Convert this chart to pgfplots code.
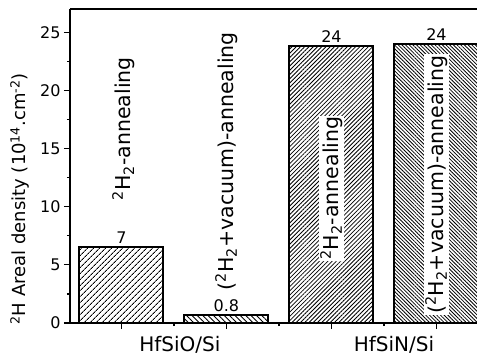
\documentclass[border=0pt]{standalone}
\usepackage{pgfplots}
\pgfplotsset{compat=1.18}
\usepackage{fontspec}
\setmainfont{DejaVu Sans}
\usetikzlibrary{patterns.meta}
\begin{document}
\begin{tikzpicture}
\begin{axis}[
 at={(0,0)}, anchor=south west,
 scale only axis, width=407pt, height=314pt,
 xmin=-0.49, xmax=3.386, ymin=0, ymax=27,
 axis x line=box, axis y line=left,
 axis line style={-, line width=1.6pt},
 tick align=outside,
 xtick={0,1,2,3}, xticklabels={,,,}, minor xtick={0.5,1.5,2.5},
 xtick pos=left, ytick pos=left,
 extra x ticks={0.557,2.595},
 extra x tick labels={HfSiO/Si,HfSiN/Si},
 extra x tick style={major tick length=0pt, tick label style={font=\fontsize{20}{24}\selectfont, yshift=-10pt}},
 ytick={0,5,...,25}, minor y tick num=1,
 major tick length=6pt, minor tick length=3pt,
 tick style={black, line width=1.2pt},
 yticklabel style={font=\fontsize{16}{19}\selectfont},
 /pgf/number format/assume math mode=true,
 ylabel={\textsuperscript{2}H Areal density (10\textsuperscript{14}.cm\textsuperscript{-2})},
 ylabel style={font=\fontsize{18}{22}\selectfont, at={(axis description cs:-0.123,0.395)}, anchor=center},
 ybar, bar width=0.8, bar shift=0pt,
 nodes near coords, point meta=explicit symbolic,
 nodes near coords style={font=\fontsize{16}{19}\selectfont, anchor=south, inner sep=2.5pt},
]
\addplot[draw=black, line width=2pt, pattern={Lines[angle=45,distance=4pt,line width=0.9pt]}] coordinates {(0,6.56) [7]};
\addplot[draw=black, line width=2pt, pattern={Lines[angle=-45,distance=3.8pt,line width=0.9pt]}] coordinates {(1,0.69) [0.8]};
\addplot[draw=black, line width=2pt, pattern={Lines[angle=45,distance=3pt,line width=0.8pt]}] coordinates {(2,23.8) [24]};
\addplot[draw=black, line width=2pt, pattern={Lines[angle=-45,distance=2.6pt,line width=0.8pt]}] coordinates {(3,24.0) [24]};
\node[rotate=90, font=\fontsize{20.5}{24}\selectfont] at (axis cs:0.02,16.7) {\textsuperscript{2}H\textsubscript{2}-annealing};
\node[rotate=90, font=\fontsize{20.5}{24}\selectfont] at (axis cs:1.0,13.9) {(\textsuperscript{2}H\textsubscript{2}+vacuum)-annealing};
\node[rotate=90, font=\fontsize{20.5}{24}\selectfont, fill=white, inner sep=1pt] at (axis cs:2.0,11.6) {\textsuperscript{2}H\textsubscript{2}-annealing};
\node[rotate=90, font=\fontsize{20.5}{24}\selectfont, fill=white, inner sep=1pt] at (axis cs:3.0,11.9) {(\textsuperscript{2}H\textsubscript{2}+vacuum)-annealing};
\end{axis}
\pgfresetboundingbox
\path[use as bounding box] (-70pt,-37pt) rectangle (407pt,323pt);
\end{tikzpicture}
\end{document}
